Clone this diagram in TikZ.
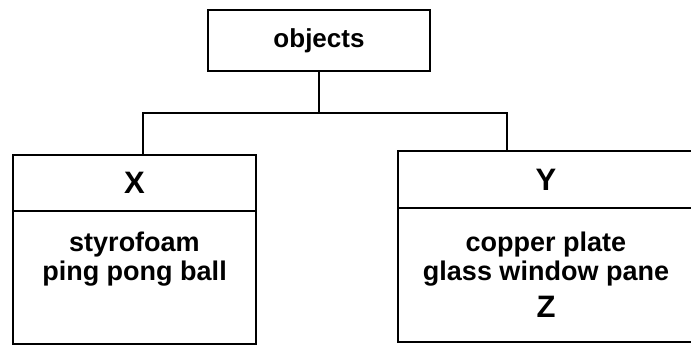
\documentclass[tikz,border=0pt]{standalone}
\usepackage{fontspec}
\setmainfont{Liberation Sans}
\usetikzlibrary{positioning}
\tikzset{
	box/.style={draw,line width=1.4pt,inner sep=0pt,outer sep=0pt,font=\fontsize{13pt}{14.5pt}\selectfont\bfseries},
	headbox/.style={box,font=\fontsize{15.5pt}{16pt}\selectfont\bfseries},
	items/.style={inner sep=0pt,align=center,font=\fontsize{13.5pt}{14.5pt}\selectfont\bfseries},
	link/.style={line width=1.4pt}
}
\begin{document}
\begin{tikzpicture}[x=0.5pt,y=-0.5pt]
			\useasboundingbox (0,0) rectangle (691,347);
			\node [box,minimum width=111pt,minimum height=30.5pt] (objects) at (319,40.5) {objects};
			\node [headbox,minimum width=121.5pt,minimum height=28pt] (xhead) at (134.5,183) {X};
			\node [box,minimum width=121.5pt,minimum height=66.5pt,below=0pt of xhead] (xbody) {};
			\node [headbox,minimum width=148pt,minimum height=28.5pt] (yhead) at (546,179.5) {Y};
			\node [box,minimum width=148pt,minimum height=67pt,below=0pt of yhead] (ybody) {};
			\node [items,below=10.5pt of xbody.north] (xlist) {styrofoam\\ping pong ball};
			\node [items,below=12pt of ybody.north] (ylist) {copper plate\\glass window pane\\[4pt]{\fontsize{15.5pt}{16pt}\selectfont Z}};
			\coordinate (xleg) at (143,113);
			\coordinate (yleg) at (507,113);
			\draw [link](objects.south)--(objects.south |- xleg);
			\draw [link](xhead.north -| xleg)--(xleg)--(yleg)--(yhead.north -| yleg);
		\end{tikzpicture}
\end{document}
